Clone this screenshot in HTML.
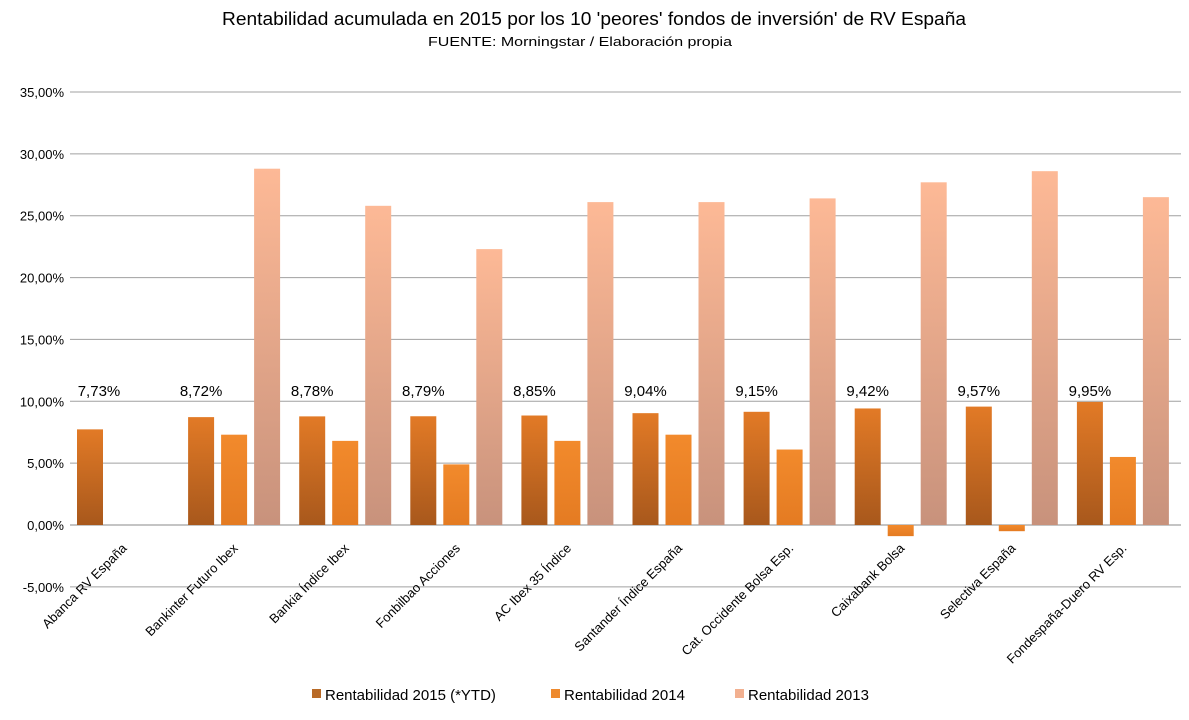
<!DOCTYPE html>
<html><head><meta charset="utf-8"><style>
body{margin:0;background:#fff;font-family:"Liberation Sans",sans-serif}
svg text{font-family:"Liberation Sans",sans-serif}
</style></head><body>
<svg width="1189" height="715" xmlns="http://www.w3.org/2000/svg">
<defs>
<linearGradient id="g15" x1="0" y1="0" x2="0" y2="1"><stop offset="0" stop-color="#e27a26"/><stop offset="1" stop-color="#a8581c"/></linearGradient>
<linearGradient id="g14" x1="0" y1="0" x2="0" y2="1"><stop offset="0" stop-color="#f28a2c"/><stop offset="1" stop-color="#e47b22"/></linearGradient>
<linearGradient id="g13" x1="0" y1="0" x2="0" y2="1"><stop offset="0" stop-color="#fdb996"/><stop offset="1" stop-color="#c8927c"/></linearGradient>
</defs>
<text x="594" y="25" font-size="18" text-anchor="middle" fill="#000" textLength="744" lengthAdjust="spacingAndGlyphs">Rentabilidad acumulada en 2015 por los 10 'peores' fondos de inversión' de RV España</text>
<text x="580" y="46" font-size="13" text-anchor="middle" fill="#000" textLength="304" lengthAdjust="spacingAndGlyphs">FUENTE: Morningstar / Elaboración propia</text>
<g id="grid"></g><g id="bars"></g><g id="xl"></g>
<g>
<rect x="312" y="689" width="9" height="9" fill="#b86a27"/>
<text x="325" y="700" font-size="15">Rentabilidad 2015 (*YTD)</text>
<rect x="551" y="689" width="9" height="9" fill="#ee8a2e"/>
<text x="564" y="700" font-size="15">Rentabilidad 2014</text>
<rect x="735" y="689" width="9" height="9" fill="#f2b090"/>
<text x="748" y="700" font-size="15">Rentabilidad 2013</text>
</g>
</svg>
<script>
const categories=["Abanca RV España","Bankinter Futuro Ibex","Bankia Índice Ibex","Fonbilbao Acciones","AC Ibex 35 Índice","Santander Índice España","Cat. Occidente Bolsa Esp.","Caixabank Bolsa","Selectiva España","Fondespaña-Duero RV Esp."];
const r2015=[7.73,8.72,8.78,8.79,8.85,9.04,9.15,9.42,9.57,9.95];
const r2014=[null,7.3,6.8,4.9,6.8,7.3,6.1,-0.9,-0.5,5.5];
const r2013=[null,28.8,25.8,22.3,26.1,26.1,26.4,27.7,28.6,26.5];
const ticks=[-5,0,5,10,15,20,25,30,35];
const NS="http://www.w3.org/2000/svg";
const L=70,R=1181,y0=525,ppu=(525-92)/35;
const y=v=>y0-v*ppu;
const cw=(R-L)/categories.length;
function mk(t,a,p){const e=document.createElementNS(NS,t);for(const k in a)e.setAttribute(k,a[k]);p.appendChild(e);return e;}
const grid=document.getElementById('grid'),bars=document.getElementById('bars'),xl=document.getElementById('xl');
ticks.forEach(t=>{
 const ln=mk('line',{x1:L,x2:R,y1:y(t),y2:y(t),stroke:t===0?'#888':'#a0a0a0','stroke-width':1},grid);
 
 
 const tx=mk('text',{x:64,y:y(t)+5,'font-size':13,'text-anchor':'end'},grid);
 tx.textContent=t.toFixed(2).replace('.',',')+'%';
 
 
});
const series=[[r2015,'url(#g15)','bar-2015'],[r2014,'url(#g14)','bar-2014'],[r2013,'url(#g13)','bar-2013']];
categories.forEach((c,i)=>{
 const x0=L+i*cw+7;
 series.forEach(([arr,fill,nm],s)=>{
  const v=arr[i]; if(v==null)return;
  const top=Math.min(y(v),y0),h=Math.abs(y(v)-y0);
  const r=mk('rect',{x:x0+s*33,y:top,width:26,height:h,fill:fill},bars);
  
  
 });
 const lb=mk('text',{x:x0+13+(i===0?9:0),y:396,'font-size':15,'text-anchor':'middle'},bars);
 lb.textContent=r2015[i].toFixed(2).replace('.',',')+'%';
 
 
 const cx=L+(i+0.5)*cw;
 const xt=mk('text',{x:0,y:0,'font-size':13,'text-anchor':'end',transform:`translate(${cx+2},${549}) rotate(-45)`},xl);
 xt.textContent=c;
 
 
});
</script>
</body></html>
